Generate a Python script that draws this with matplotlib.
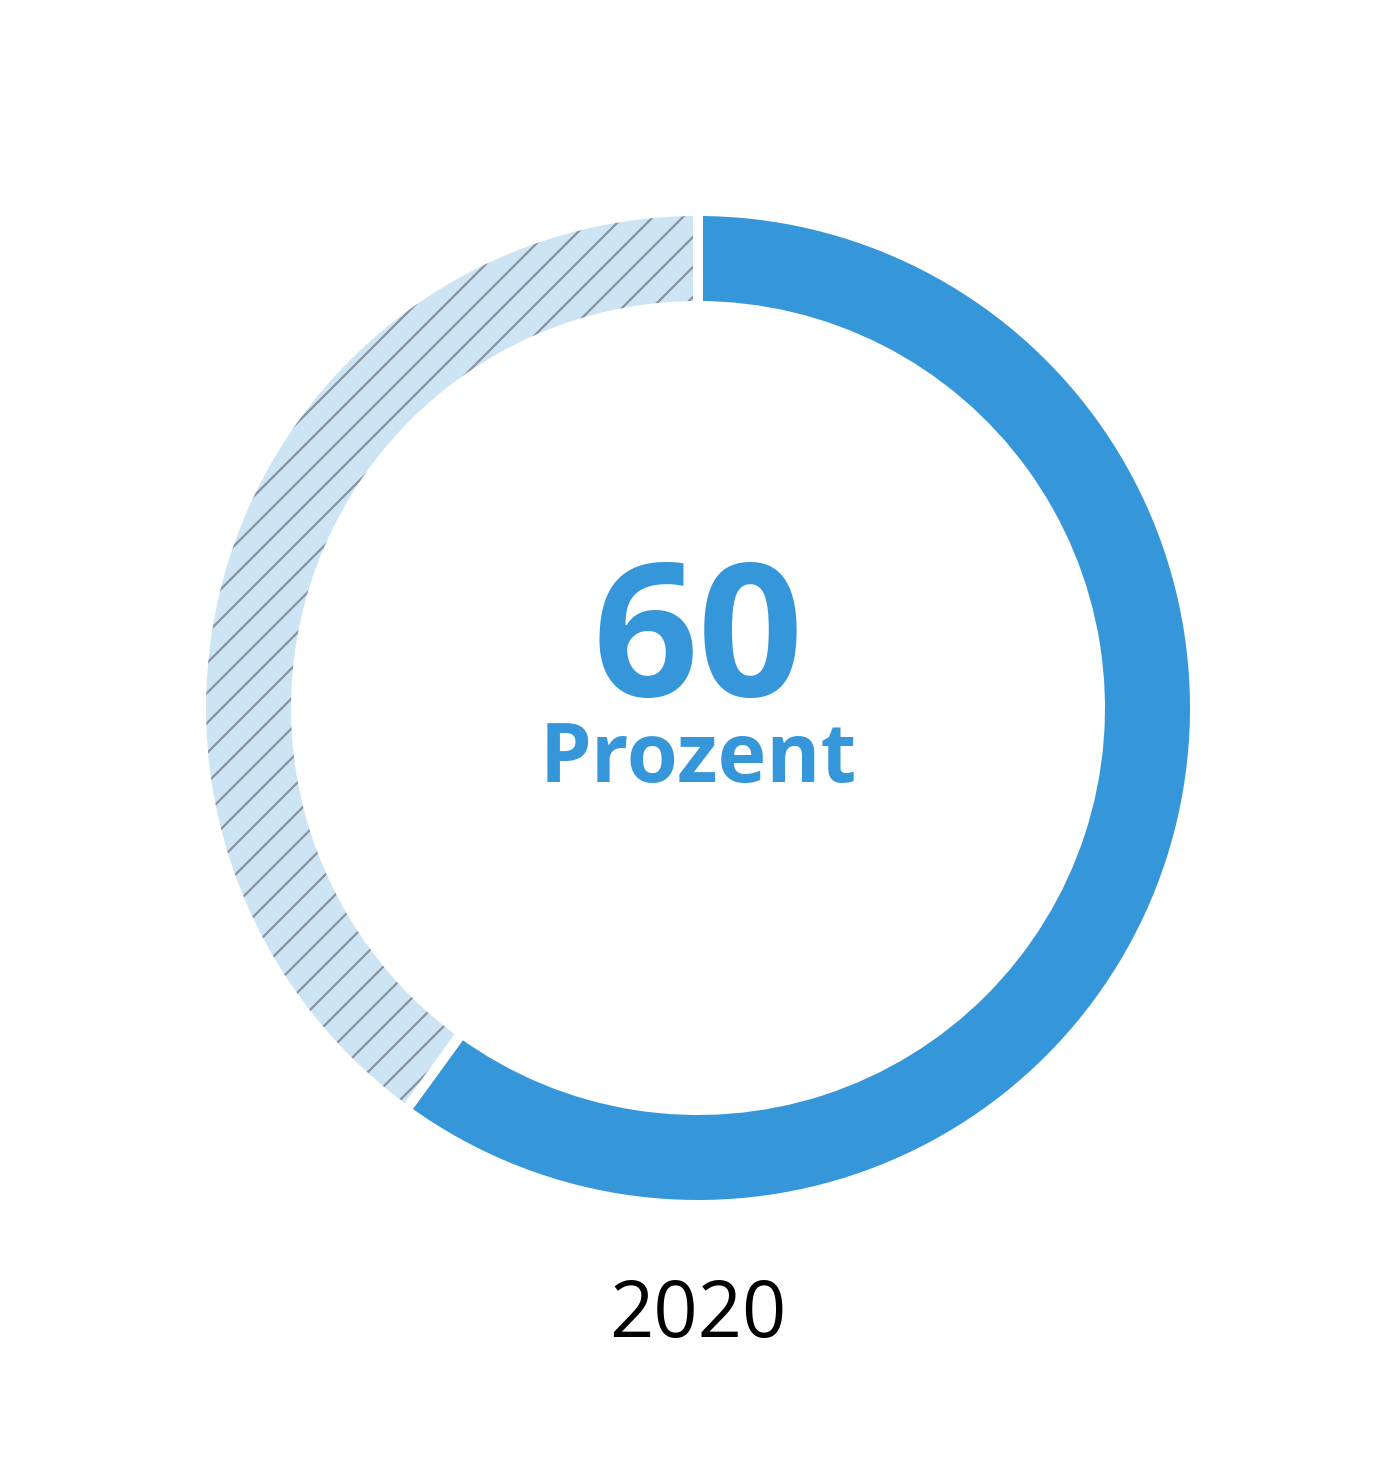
import matplotlib
matplotlib.use('Agg')
import matplotlib.pyplot as plt

plt.rcParams['font.family'] = ['Open Sans', 'DejaVu Sans']
plt.rcParams['hatch.linewidth'] = 0.9

# data
labels = ['Anteil', 'Rest']
values = [60, 40]
big_text = '60'
unit_text = 'Prozent'
year = '2020'

blue = '#3597DA'
light = '#CDE4F5'
hatch_col = '#86949F'

fig = plt.figure(figsize=(1400 / 180, 1477 / 180), dpi=180)
ax = fig.add_axes([0, 0, 1, 1])

cx, cy = 698, 769
r = 497
w = 95

wedges, _ = ax.pie(values, radius=r, center=(cx, cy), startangle=90,
                   counterclock=False, colors=[blue, light],
                   wedgeprops=dict(width=w, linewidth=0, edgecolor=hatch_col),
                   frame=True)
wedges[1].set_hatch('//')

# white gaps between the segments
ax.pie(values, radius=r, center=(cx, cy), startangle=90, counterclock=False,
       colors=['none', 'none'],
       wedgeprops=dict(width=w, linewidth=4, edgecolor='white'), frame=True)

ax.set_xlim(0, 1400)
ax.set_ylim(0, 1477)
ax.set_aspect('equal')
ax.axis('off')

ax.text(cx, 781, big_text, ha='center', va='baseline', fontsize=74,
        fontweight='bold', color=blue)
ax.text(cx, 695, unit_text, ha='center', va='baseline', fontsize=33,
        fontweight='bold', color=blue)
ax.text(cx, 140, year, ha='center', va='baseline', fontsize=31, color='black')

fig.savefig('out.png', dpi=180)
